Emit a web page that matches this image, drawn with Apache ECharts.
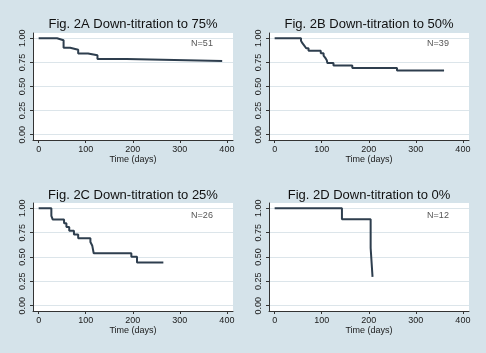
<!DOCTYPE html>
<html>
<head>
<meta charset="utf-8">
<script src="https://cdn.jsdelivr.net/npm/echarts@6/dist/echarts.min.js"></script>
<style>
  html, body { margin: 0; padding: 0; background: #d5e3ea; }
  #main { width: 486px; height: 353px; }
</style>
</head>
<body>
<div id="main"></div>
<script>
// Kaplan-Meier curves
var daysA = [0, 39, 53, 67, 84, 105, 125, 187, 390];
var survA = [1, 0.980, 0.902, 0.882, 0.843, 0.824, 0.784, 0.765, 0.765];

var daysB = [0, 56, 59, 63, 67, 72, 98, 104, 108, 111, 112, 125, 165, 260, 360];
var survB = [1, 0.974, 0.949, 0.923, 0.897, 0.872, 0.846, 0.821, 0.795, 0.769, 0.744, 0.718, 0.692, 0.667, 0.667];

var daysC = [0, 27, 30, 54, 59, 65, 75, 84, 110, 114, 117, 197, 209, 265];
var survC = [1, 0.923, 0.885, 0.846, 0.808, 0.769, 0.731, 0.692, 0.654, 0.615, 0.538, 0.503, 0.444, 0.444];

var daysD = [0, 143, 204, 208];
var survD = [1, 0.889, 0.593, 0.296];

var titles = ['Fig. 2A Down-titration to 75%', 'Fig. 2B Down-titration to 50%',
              'Fig. 2C Down-titration to 25%', 'Fig. 2D Down-titration to 0%'];
var nLabels = ['N=51', 'N=39', 'N=26', 'N=12'];
var xTicks = [0, 100, 200, 300, 400];
var yTicks = [0, 0.25, 0.5, 0.75, 1];

var dom = document.getElementById('main');
var myChart = echarts.init(dom);

var grids = [
    { left: 33, top: 33, width: 200, height: 107 },
    { left: 269, top: 33, width: 200, height: 107 },
    { left: 33, top: 203, width: 200, height: 108 },
    { left: 269, top: 203, width: 200, height: 108 }
];
var titleY = [24, 24, 195, 195];
var nY = [44, 44, 216, 216];

function pairs(d, s) {
    return d.map(function (x, i) { return [x, s[i]]; });
}
var curves = [pairs(daysA, survA), pairs(daysB, survB), pairs(daysC, survC), pairs(daysD, survD)];

var tickFont = '"Liberation Sans Narrow", "Liberation Sans", Arial, sans-serif';

var option = {
    backgroundColor: '#d5e3ea',
    animation: false,
    title: [],
    grid: [],
    xAxis: [],
    yAxis: [],
    series: []
};

grids.forEach(function (g, i) {
    option.grid.push({
        left: g.left, top: g.top, width: g.width, height: g.height,
        show: true, backgroundColor: '#ffffff', borderWidth: 0
    });
    option.title.push({
        text: titles[i],
        left: g.left + g.width / 2,
        top: titleY[i],
        padding: 0,
        textAlign: 'center',
        textVerticalAlign: 'middle',
        textStyle: { fontFamily: '"Liberation Sans", Arial, sans-serif', fontSize: 13, fontWeight: 'normal', color: '#111' }
    });
    option.title.push({
        text: nLabels[i],
        left: g.left + 169,
        top: nY[i],
        padding: 0,
        textAlign: 'center',
        textVerticalAlign: 'middle',
        textStyle: { fontFamily: '"Liberation Sans", Arial, sans-serif', fontSize: 9, fontWeight: 'normal', color: '#555' }
    });
    option.xAxis.push({
        gridIndex: i,
        type: 'value',
        min: -12,
        max: 413,
        name: 'Time (days)',
        nameLocation: 'middle',
        nameGap: 12,
        nameTextStyle: { fontFamily: tickFont, fontSize: 9, color: '#1a1a1a' },
        axisLine: { show: true, onZero: false, lineStyle: { color: '#333', width: 1 } },
        axisTick: { show: true, length: 3, customValues: xTicks, lineStyle: { color: '#333' } },
        axisLabel: { customValues: xTicks, margin: 5, fontFamily: tickFont, fontSize: 9, color: '#1a1a1a' },
        splitLine: { show: false }
    });
    option.yAxis.push({
        gridIndex: i,
        type: 'value',
        min: -0.055,
        max: 1.055,
        axisLine: { show: true, onZero: false, lineStyle: { color: '#333', width: 1 } },
        axisTick: { show: true, length: 3, customValues: yTicks, lineStyle: { color: '#333' } },
        axisLabel: {
            customValues: yTicks, rotate: 90, margin: 6,
            fontFamily: tickFont, fontSize: 9, color: '#1a1a1a',
            formatter: function (v) { return v.toFixed(2); }
        },
        splitLine: { show: true, lineStyle: { color: '#dce5ea', width: 1 } }
    });
    option.series.push({
        type: 'line',
        xAxisIndex: i,
        yAxisIndex: i,
        step: 'end',
        symbol: 'none',
        data: curves[i],
        lineStyle: { color: '#2e3e4e', width: 2 }
    });
});

if (option && typeof option === 'object') {
    myChart.setOption(option, true);
}
</script>
</body>
</html>
